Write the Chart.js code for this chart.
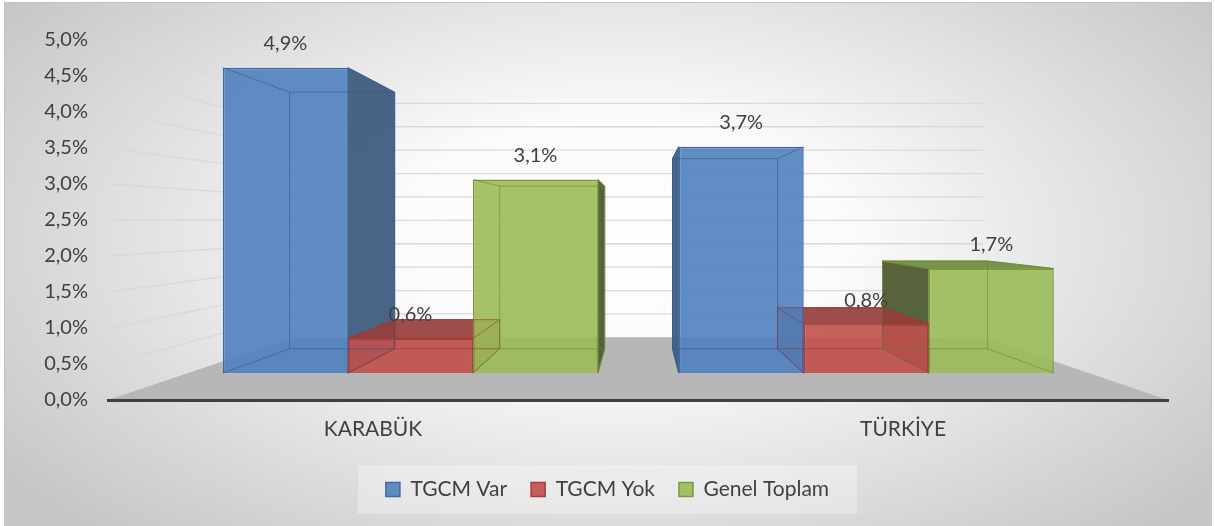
<!DOCTYPE html>
<html><head><meta charset="utf-8">
<script src="https://cdn.jsdelivr.net/npm/chart.js@4.4.1/dist/chart.umd.min.js"></script>
<style>html,body{margin:0;padding:0;background:#fff;overflow:hidden}</style>
</head><body>
<canvas id="c" width="1215" height="526" style="width:1215px;height:526px;display:block"></canvas>
<script>
// ---- data ----
const categories = ['KARABÜK', 'TÜRKİYE'];
const seriesNames = ['TGCM Var', 'TGCM Yok', 'Genel Toplam'];
const tgcmVar = [4.94, 3.66];
const tgcmYok = [0.56, 0.79];
const genelToplam = [3.13, 1.69];
const yTickLabels = ['0,0%','0,5%','1,0%','1,5%','2,0%','2,5%','3,0%','3,5%','4,0%','4,5%','5,0%'];

// ---- styling / perspective constants ----
const FONT = 'Lato, "Open Sans", sans-serif';
const TEXT = '#404040';
const VX = 640, VY = 221;   // vanishing point of the 3D view
const DEPTH_K = 0.84;       // back face of a bar relative to its front face
const WALL_S = 0.65;        // back wall relative to the front (axis) plane
// hidden bar-plane scales (bar fronts sit behind the axis plane)
const X2_MIN = -0.6635, X2_MAX = 1.662;
const Y2_MIN = -0.4355, Y2_MAX = 5.387;

const styles = [
  {bg:'rgba(79,129,189,0.9)', bd:'#3d6aa5', side:'rgba(60,88,124,0.93)', top:'rgba(60,88,124,0.9)', edge:'rgba(45,85,140,0.55)'},
  {bg:'rgba(192,80,77,0.9)', bd:'#a83c3a', side:'rgba(140,55,53,0.9)', top:'rgba(150,62,60,0.92)', edge:'rgba(150,45,45,0.5)'},
  {bg:'rgba(155,187,89,0.9)', bd:'#7a9a3c', side:'rgba(78,90,50,0.94)', top:'rgba(113,137,63,0.92)', edge:'rgba(100,130,50,0.55)'}
];
const seriesValues = [tgcmVar, tgcmYok, genelToplam];

const datasets = seriesValues.map((vals, si) => ({
  label: seriesNames[si],
  data: vals.map((v, i) => ({x: i, y: v})),
  backgroundColor: styles[si].bg,
  borderColor: styles[si].bd,
  borderWidth: 1.5,
  xAxisID: 'x2', yAxisID: 'y2',
  categoryPercentage: 0.823, barPercentage: 1.0
}));

function poly(ctx, pts) {
  ctx.beginPath();
  ctx.moveTo(pts[0][0], pts[0][1]);
  for (let i = 1; i < pts.length; i++) ctx.lineTo(pts[i][0], pts[i][1]);
  ctx.closePath();
}
const back = (X, Y) => [VX + (X - VX) * DEPTH_K, VY + (Y - VY) * DEPTH_K];
const wall = (X, Y) => [VX + (X - VX) * WALL_S, VY + (Y - VY) * WALL_S];

function barRects(chart) {
  const out = [];
  chart.data.datasets.forEach((ds, di) => {
    chart.getDatasetMeta(di).data.forEach((el, i) => {
      const p = el.getProps(['x','y','base','width'], true);
      out.push({di, i, L: p.x - p.width/2, R: p.x + p.width/2, T: p.y, B: p.base, cx: p.x, v: ds.data[i].y});
    });
  });
  return out;
}

const scenePlugin = {
  id: 'scene',
  beforeDraw(chart) {
    const ctx = chart.ctx, W = chart.width, H = chart.height;
    ctx.save();
    ctx.fillStyle = '#fff'; ctx.fillRect(0, 0, W, H);
    // background gradient
    ctx.save();
    ctx.beginPath(); ctx.rect(4, 2, W - 7, H - 2); ctx.clip();
    ctx.translate(620, 240); ctx.scale(1, 400 / 760);
    const g = ctx.createRadialGradient(0, 0, 0, 0, 0, 760);
    g.addColorStop(0, '#ffffff'); g.addColorStop(0.3, '#fbfbfb'); g.addColorStop(1, '#c6c6c6');
    ctx.fillStyle = g; ctx.fillRect(-2000, -3000, 4000, 6000);
    ctx.restore();
    ctx.strokeStyle = '#c2c2c2'; ctx.lineWidth = 1;
    ctx.strokeRect(4.5, 2.5, W - 8, H);
    // legend background
    const lg = chart.legend;
    if (lg && lg.legendHitBoxes && lg.legendHitBoxes.length) {
      const hb = lg.legendHitBoxes;
      const l = hb[0].left - 28, r = hb[hb.length-1].left + hb[hb.length-1].width + 28;
      const t = hb[0].top - 14, b = hb[0].top + hb[0].height + 14;
      ctx.fillStyle = 'rgba(255,255,255,0.3)';
      ctx.fillRect(l, t, r - l, b - t);
    }
    // floor
    const ys = chart.scales.y, ca = chart.chartArea;
    const y0 = ys.getPixelForValue(0);
    ctx.fillStyle = '#b7b7b7';
    poly(ctx, [[ca.left, y0], [ca.right, y0], wall(ca.right, y0), wall(ca.left, y0)]);
    ctx.fill();
    // gridlines on side wall + back wall
    ctx.strokeStyle = '#d9d9d9'; ctx.lineWidth = 1.3;
    ys.ticks.forEach(t => {
      if (t.value === 0) return;
      const yp = ys.getPixelForValue(t.value);
      const a = wall(ca.left, yp), b = wall(ca.right, yp);
      ctx.beginPath(); ctx.moveTo(ca.left + 1, yp); ctx.lineTo(a[0], a[1]); ctx.lineTo(b[0], b[1]); ctx.stroke();
    });
    ctx.restore();
  },
  beforeDatasetsDraw(chart) {
    const ctx = chart.ctx;
    const bars = barRects(chart).sort((a, b) => Math.abs(b.cx - VX) - Math.abs(a.cx - VX));
    ctx.save();
    ctx.lineWidth = 1;
    bars.forEach(r => {
      const st = styles[r.di];
      ctx.strokeStyle = st.bd;
      if (r.R < VX) {
        ctx.fillStyle = st.side;
        poly(ctx, [[r.R, r.T], [r.R, r.B], back(r.R, r.B), back(r.R, r.T)]); ctx.fill(); ctx.stroke();
      }
      if (r.L > VX) {
        ctx.fillStyle = st.side;
        poly(ctx, [[r.L, r.T], [r.L, r.B], back(r.L, r.B), back(r.L, r.T)]); ctx.fill(); ctx.stroke();
      }
      if (r.T > VY) {
        ctx.fillStyle = st.top;
        poly(ctx, [[r.L, r.T], [r.R, r.T], back(r.R, r.T), back(r.L, r.T)]); ctx.fill(); ctx.stroke();
      }
    });
    ctx.restore();
  },
  afterDatasetsDraw(chart) {
    const ctx = chart.ctx;
    const bars = barRects(chart);
    ctx.save();
    ctx.lineWidth = 1;
    bars.forEach(r => {
      const st = styles[r.di];
      ctx.strokeStyle = st.edge;
      const bLT = back(r.L, r.T), bRT = back(r.R, r.T), bLB = back(r.L, r.B), bRB = back(r.R, r.B);
      poly(ctx, [bLT, bRT, bRB, bLB]); ctx.stroke();
      ctx.beginPath();
      ctx.moveTo(r.L, r.T); ctx.lineTo(bLT[0], bLT[1]);
      ctx.moveTo(r.R, r.T); ctx.lineTo(bRT[0], bRT[1]);
      ctx.moveTo(r.L, r.B); ctx.lineTo(bLB[0], bLB[1]);
      ctx.moveTo(r.R, r.B); ctx.lineTo(bRB[0], bRB[1]);
      ctx.stroke();
    });
    ctx.fillStyle = TEXT;
    ctx.font = '20px ' + FONT;
    ctx.textAlign = 'center'; ctx.textBaseline = 'middle';
    bars.forEach(r => {
      ctx.fillText(r.v.toFixed(1).replace('.', ',') + '%', r.cx, r.T - 24);
    });
    ctx.restore();
  }
};

function draw() {
  new Chart(document.getElementById('c'), {
    type: 'bar',
    data: { labels: categories, datasets },
    options: {
      responsive: false, animation: false, devicePixelRatio: 1,
      layout: { padding: { left: 0, right: 0, top: 40, bottom: 16 } },
      plugins: {
        tooltip: { enabled: false },
        legend: {
          position: 'bottom',
          labels: { boxWidth: 14, boxHeight: 14, padding: 24, color: TEXT, font: { family: FONT, size: 21 } }
        }
      },
      scales: {
        x: {
          type: 'category', offset: true,
          grid: { display: false, drawTicks: false },
          border: { display: true, color: '#404040', width: 3 },
          ticks: { color: TEXT, padding: 17, font: { family: FONT, size: 21 } },
          afterFit(s) { s.height = 55; }
        },
        y: {
          type: 'linear', min: 0, max: 5,
          grid: { display: false, drawTicks: false },
          border: { display: false },
          ticks: { stepSize: 0.5, padding: 20, color: TEXT, font: { family: FONT, size: 20 },
                   callback: (v) => yTickLabels[Math.round(v * 2)] },
          afterFit(s) { s.width = 108; }
        },
        yR: {
          type: 'linear', position: 'right', display: true,
          grid: { display: false, drawTicks: false }, border: { display: false },
          ticks: { display: false },
          afterFit(s) { s.width = 47; }
        },
        x2: { type: 'linear', display: false, offset: false, bounds: 'data', min: X2_MIN, max: X2_MAX,
              afterBuildTicks(s) { s.ticks = categories.map((c, i) => ({ value: i })); } },
        y2: { type: 'linear', display: false, min: Y2_MIN, max: Y2_MAX }
      }
    },
    plugins: [scenePlugin]
  });
}
if (document.fonts && document.fonts.load) {
  document.fonts.load('20px Lato').then(draw, draw);
} else draw();
</script>
</body></html>
